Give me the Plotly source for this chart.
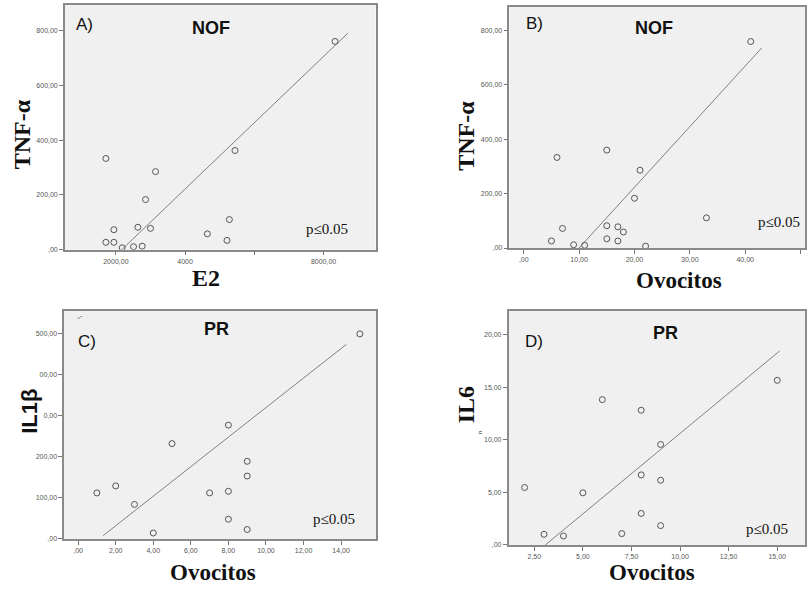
import plotly.graph_objects as go

W, H = 807, 591

# ---------------- data ----------------
# Panel A: E2 vs TNF-alpha (NOF)
a_x = [1711, 1942, 1711, 1942, 2182, 2510, 2760, 2635, 3000, 2857, 3146, 4643, 5209, 5278, 5440, 8330]
a_y = [333, 73, 27, 27, 7, 11, 13, 82, 78, 183, 285, 58, 34, 110, 362, 760]
a_fit_x = [2010, 8700]
a_fit_y = [-19, 790]

# Panel B: Ovocitos vs TNF-alpha (NOF)
b_x = [6, 7, 5, 9, 11, 15, 15, 15, 17, 17, 18, 20, 21, 22, 33, 41]
b_y = [333, 72, 26, 12, 10, 360, 82, 34, 78, 26, 59, 183, 286, 7, 111, 759]
b_fit_x = [9.75, 43.0]
b_fit_y = [-5, 736]

# Panel C: Ovocitos vs IL1beta (PR)
c_x = [1, 2, 3, 4, 5, 7, 8, 8, 8, 9, 9, 9, 15]
c_y = [112, 129, 84, 14.5, 232, 112, 277, 116, 48, 189, 153, 23, 499]
c_fit_x = [1.33, 14.29]
c_fit_y = [8, 474]

# Panel D: Ovocitos vs IL6 (PR)
d_x = [2, 3, 4, 5, 6, 7, 8, 8, 8, 9, 9, 9, 15]
d_y = [5.47, 1.01, 0.85, 4.96, 13.84, 1.08, 12.83, 6.67, 3.0, 9.57, 6.16, 1.84, 15.68]
d_fit_x = [3.01, 15.13]
d_fit_y = [-0.09, 18.48]

# tick labels
a_xticks = [2000, 4000, 6000, 8000]
a_xtext = ["2000,00", "4000", "", "8000,00"]
a_yticks = [0, 200, 400, 600, 800]
a_ytext = [",00", "200,00", "400,00", "600,00", "800,00"]

b_xticks = [0, 10, 20, 30, 40, 50]
b_xtext = [",00", "10,00", "20,00", "30,00", "40,00", "50,00"]
b_yticks = [0, 200, 400, 600, 800]
b_ytext = [",00", "200,00", "400,00", "600,00", "800,00"]

c_xticks = [0, 2, 4, 6, 8, 10, 12, 14]
c_xtext = [",00", "2,00", "4,00", "6,00", "8,00", "10,00", "12,00", "14,00"]
c_yticks = [0, 100, 200, 300, 400, 500]
c_ytext = [",00", "100,00", "200,00", "0,00", "00,00", "500,00"]

d_xticks = [2.5, 5, 7.5, 10, 12.5, 15]
d_xtext = ["2,50", "5,00", "7,50", "10,00", "12,50", "15,00"]
d_yticks = [0, 5, 10, 15, 20]
d_ytext = [",00", "5,00", "10,00", "15,00", "20,00"]

# ---------------- layout helpers ----------------
def px_x(x):
    return x / W

def px_y(y):
    return 1 - y / H

panels = [
    dict(x=a_x, y=a_y, fx=a_fit_x, fy=a_fit_y, xd=(65, 376), yd=(5, 251),
         xr=[528, 9500], yr=[0, 893], xt=(a_xticks, a_xtext), yt=(a_yticks, a_ytext)),
    dict(x=b_x, y=b_y, fx=b_fit_x, fy=b_fit_y, xd=(510, 806), yd=(7, 249.3),
         xr=[-2.6, 50.8], yr=[0, 886], xt=(b_xticks, b_xtext), yt=(b_yticks, b_ytext)),
    dict(x=c_x, y=c_y, fx=c_fit_x, fy=c_fit_y, xd=(64.3, 376.7), yd=(312.7, 541.7),
         xr=[-0.74, 15.87], yr=[0, 554.5], xt=(c_xticks, c_xtext), yt=(c_yticks, c_ytext)),
    dict(x=d_x, y=d_y, fx=d_fit_x, fy=d_fit_y, xd=(509.3, 806), yd=(312.7, 547.7),
         xr=[1.18, 16.43], yr=[0, 22.27], xt=(d_xticks, d_xtext), yt=(d_yticks, d_ytext)),
]

fig = go.Figure()
layout = dict(
    width=W, height=H, margin=dict(l=0, r=0, t=0, b=0),
    paper_bgcolor="white", plot_bgcolor="#f0f0f0", showlegend=False,
)

tickfont = dict(family="Liberation Sans, Arial, sans-serif", size=7, color="#555")
for i, p in enumerate(panels, start=1):
    sfx = "" if i == 1 else str(i)
    xa, ya = "x" + sfx, "y" + sfx
    fig.add_trace(go.Scatter(
        x=p["fx"], y=p["fy"], mode="lines", xaxis=xa, yaxis=ya,
        line=dict(color="#808080", width=1), hoverinfo="skip"))
    fig.add_trace(go.Scatter(
        x=p["x"], y=p["y"], mode="markers", xaxis=xa, yaxis=ya,
        marker=dict(symbol="circle-open", size=6, color="#555", line=dict(width=1))))
    common = dict(showgrid=False, zeroline=False, showline=True, mirror=True,
                  linecolor="#8a8a8a", linewidth=1.5, ticks="outside", ticklen=4,
                  tickcolor="#777", tickwidth=1, tickfont=tickfont, tickmode="array")
    layout["xaxis" + sfx] = dict(
        domain=[px_x(p["xd"][0]), px_x(p["xd"][1])], range=p["xr"], anchor=ya,
        tickvals=p["xt"][0], ticktext=p["xt"][1], **common)
    layout["yaxis" + sfx] = dict(
        domain=[px_y(p["yd"][1]), px_y(p["yd"][0])], range=p["yr"], anchor=xa,
        tickvals=p["yt"][0], ticktext=p["yt"][1], **common)

fig.update_layout(**layout)

sans = "Liberation Sans, Arial, sans-serif"
serif = "Liberation Serif, Times New Roman, serif"

def ann(text, x, y, size, family, bold=False, angle=0, color="#111"):
    t = "<b>%s</b>" % text if bold else text
    fig.add_annotation(text=t, x=px_x(x), y=px_y(y), xref="paper", yref="paper",
                       showarrow=False, xanchor="center", yanchor="middle",
                       textangle=angle, font=dict(size=size, family=family, color=color))

# panel letters
ann("A)", 85, 25, 17, sans)
ann("B)", 535, 24, 17, sans)
ann("C)", 87, 343, 17, sans)
ann("D)", 535, 343, 17, sans)
ann("⁻˙", 80, 322, 10, sans)
# group titles
ann("NOF", 211, 28, 18, sans, bold=True)
ann("NOF", 655, 28, 18, sans, bold=True)
ann("PR", 217, 331, 18, sans, bold=True)
ann("PR", 666, 335, 18, sans, bold=True)
# p values
ann("p≤0.05", 327, 230, 15, serif)
ann("p≤0.05", 780, 223, 15, serif)
ann("p≤0.05", 334, 522, 15, serif)
ann("p≤0.05", 768, 532, 15, serif)
# axis titles
ann("TNF-α", 22, 135, 24, serif, bold=True, angle=-90)
ann("E2", 206, 279, 24, serif, bold=True)
ann("TNF-α", 467, 136, 24, serif, bold=True, angle=-90)
ann("Ovocitos", 680, 282, 23, serif, bold=True)
ann("IL1β", 30, 413, 22, sans, bold=True, angle=-90)
ann("Ovocitos", 213, 575, 23, serif, bold=True)
ann("IL6", 467, 407, 24, serif, bold=True, angle=-90)
ann("n", 480, 435, 6, sans, angle=-90)
ann("Ovocitos", 653, 575, 23, serif, bold=True)

fig.write_html("out.html")
